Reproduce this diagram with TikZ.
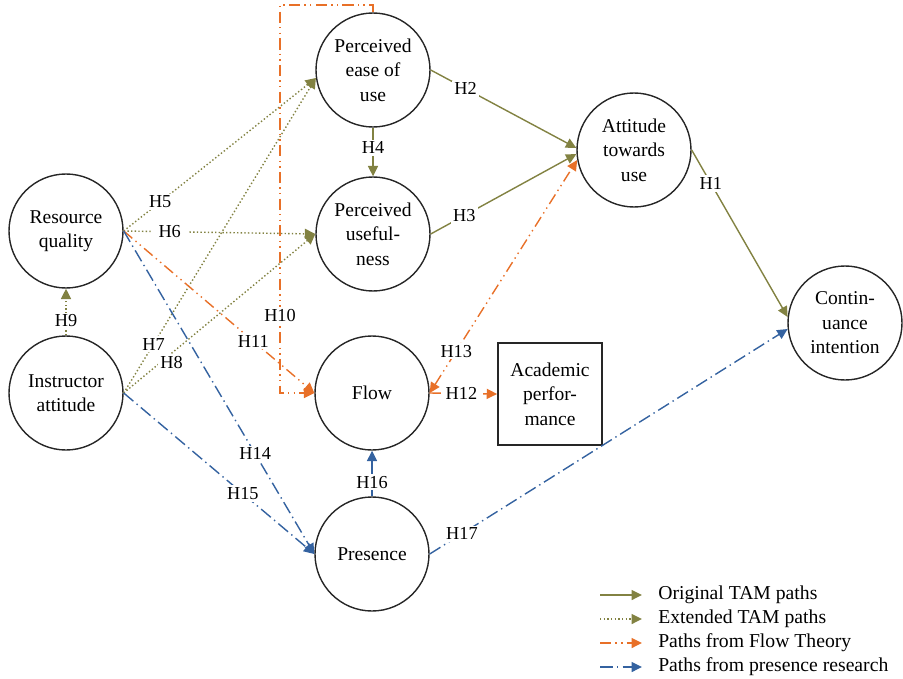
\documentclass[tikz,border=0pt]{standalone}
\usepackage{fontspec}
\setmainfont{Liberation Serif}
\usepackage{tikz}
\usetikzlibrary{arrows.meta}

\definecolor{tamolive}{RGB}{130,130,66}
\definecolor{flowor}{RGB}{232,112,40}
\definecolor{presblue}{RGB}{52,98,160}

\begin{document}
\begin{tikzpicture}[
    construct/.style={circle, draw=black!85, line width=1pt, minimum size=2.85cm, inner sep=0pt, align=center, font=\fontsize{13.9}{17.4}\selectfont},
    outcome/.style={rectangle, draw=black!85, line width=1.2pt, minimum width=2.6cm, minimum height=2.55cm, align=center, font=\fontsize{13.9}{17.4}\selectfont},
    hyp/.style={fill=white, inner sep=1.5pt, font=\fontsize{13}{15}\selectfont},
    legtxt/.style={anchor=west, inner sep=0pt, font=\fontsize{14}{16}\selectfont},
    tip/.style={-{Triangle[length=2.6mm, width=2.5mm]}},
    bothtips/.style={{Triangle[length=2.6mm, width=2.5mm]}-{Triangle[length=2.6mm, width=2.5mm]}},
    tam/.style={tip, draw=tamolive, line width=1pt},
    tamext/.style={tip, draw=tamolive, line width=1pt, dash pattern=on 1pt off 1.6pt},
    flowpath/.style={tip, draw=flowor, line width=1pt, dash pattern=on 8pt off 3pt on 1pt off 3pt on 1pt off 3pt},
    prespath/.style={tip, draw=presblue, line width=1pt, dash pattern=on 9pt off 3pt on 1pt off 3pt}
]
\useasboundingbox (0,0) rectangle (22.575,-16.975);

% Constructs
\node[construct] (rq) at (1.65,-5.775) {Resource\\quality};
\node[construct] (ia) at (1.65,-9.825) {Instructor\\attitude};
\node[construct] (peou) at (9.325,-1.75) {Perceived\\ease of\\use};
\node[construct] (pu) at (9.325,-5.85) {Perceived\\useful-\\ness};
\node[construct] (flow) at (9.3,-9.825) {Flow};
\node[construct] (pres) at (9.3,-13.85) {Presence};
\node[construct] (att) at (15.85,-3.75) {Attitude\\towards\\use};
\node[construct] (cont) at (21.125,-8.075) {Contin-\\uance\\intention};
\node[outcome] (ap) at (13.75,-9.85) {Academic\\perfor-\\mance};
\coordinate (h10corner) at (7.0,-0.125);

% Original TAM paths
\draw[tam] (peou.south) -- node[hyp, pos=0.41] {H4} (pu.north);
\draw[tam] (peou.east) -- node[hyp, pos=0.24] {H2} (att.178);
\draw[tam] (pu.east) -- node[hyp, pos=0.23] {H3} (att.184);
\draw[tam] (att.east) -- node[hyp, pos=0.2] {H1} (cont.174);

% Extended TAM paths
\draw[tamext] (rq.east) -- node[hyp, pos=0.19] {H5} (peou.188);
\draw[tamext] (rq.east) -- node[hyp, pos=0.24, inner xsep=5pt] {H6} (pu.west);
\draw[tamext] (ia.east) -- node[hyp, pos=0.155] {H7} (peou.188);
\draw[tamext] (ia.east) -- node[hyp, pos=0.25, yshift=-0.22cm] {H8} (pu.west);
\draw[tamext] (ia.north) -- node[hyp, pos=0.31] {H9} (rq.south);

% Paths from flow theory
\draw[flowpath] (peou.north) |- (h10corner) |- node[hyp, pos=0.4] {H10} (flow.west);
\draw[flowpath] (rq.east) -- node[hyp, pos=0.68] {H11} (flow.west);
\draw[flowpath] (flow.east) -- node[hyp, pos=0.47] {H12} (ap.west);
\draw[flowpath, bothtips] (flow.east) -- node[hyp, pos=0.18] {H13} (att.190);

% Paths from presence research
\draw[prespath] (rq.east) -- node[hyp, pos=0.69] {H14} (pres.west);
\draw[prespath] (ia.east) -- node[hyp, pos=0.625] {H15} (pres.west);
\draw[prespath] (pres.north) -- node[hyp, pos=0.31] {H16} (flow.south);
\draw[prespath] (pres.east) -- node[hyp, pos=0.09] {H17} (cont.186);

% Legend
\node[legtxt] (leg1) at (16.45,-14.875) {Original TAM paths};
\node[legtxt] (leg2) at (16.45,-15.475) {Extended TAM paths};
\node[legtxt] (leg3) at (16.45,-16.075) {Paths from Flow Theory};
\node[legtxt] (leg4) at (16.45,-16.675) {Paths from presence research};
\draw[tam] ([xshift=-1.45cm]leg1.west) -- ([xshift=-0.4cm]leg1.west);
\draw[tamext] ([xshift=-1.45cm]leg2.west) -- ([xshift=-0.4cm]leg2.west);
\draw[flowpath] ([xshift=-1.45cm]leg3.west) -- ([xshift=-0.4cm]leg3.west);
\draw[prespath] ([xshift=-1.45cm]leg4.west) -- ([xshift=-0.4cm]leg4.west);

\end{tikzpicture}
\end{document}
